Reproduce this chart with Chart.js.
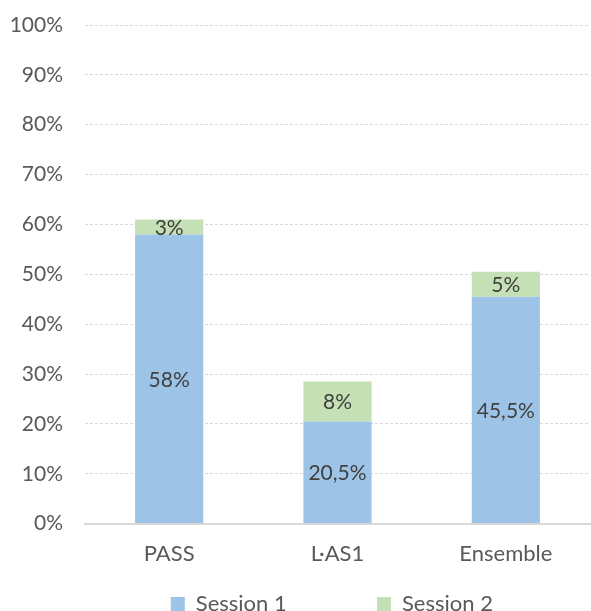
<!DOCTYPE html>
<html lang="fr">
<head>
    <meta charset="UTF-8">
    <title>Réussite par session</title>
    <script src="https://cdn.jsdelivr.net/npm/chart.js"></script>
    <style>
        body {
            margin: 0;
            background: #ffffff;
        }
        .chart-box {
            width: 591px;
            height: 611px;
        }
    </style>
</head>
<body>
    <div class="chart-box">
        <canvas id="resultsChart"></canvas>
    </div>
    <script>
        // data
        const categories = ['PASS', 'L·AS1', 'Ensemble'];
        const session1 = [58, 20.5, 45.5];
        const session2 = [3, 8, 5];
        const seriesNames = ['Session 1', 'Session 2'];
        const yTicks = [0, 10, 20, 30, 40, 50, 60, 70, 80, 90, 100];

        const fontName = 'Lato, "Open Sans", sans-serif';

        function pct(v) {
            return String(v).replace('.', ',') + '%';
        }

        // writes each value in the middle of its bar segment
        const barLabels = {
            id: 'barLabels',
            afterDatasetsDraw(chart) {
                const ctx = chart.ctx;
                ctx.save();
                ctx.font = '21px ' + fontName;
                ctx.fillStyle = '#404040';
                ctx.textAlign = 'center';
                ctx.textBaseline = 'middle';
                chart.data.datasets.forEach((ds, i) => {
                    const meta = chart.getDatasetMeta(i);
                    meta.data.forEach((bar, j) => {
                        const p = bar.getProps(['x', 'y', 'base'], true);
                        ctx.fillText(pct(ds.data[j]), p.x, (p.y + p.base) / 2 + 1);
                    });
                });
                ctx.restore();
            }
        };

        const ctx = document.getElementById('resultsChart').getContext('2d');
        new Chart(ctx, {
            type: 'bar',
            data: {
                labels: categories,
                datasets: [
                    {
                        // trailing spaces widen the gap between the two legend items
                        label: seriesNames[0] + '             ',
                        data: session1,
                        backgroundColor: '#9dc3e6'
                    },
                    {
                        label: seriesNames[1] + '  ',
                        data: session2,
                        backgroundColor: '#c5e0b4'
                    }
                ]
            },
            options: {
                responsive: true,
                maintainAspectRatio: false,
                animation: false,
                categoryPercentage: 1,
                barPercentage: 0.405,
                layout: {
                    padding: { top: 0, right: 1, bottom: -14, left: 0 }
                },
                plugins: {
                    tooltip: { enabled: false },
                    legend: {
                        position: 'bottom',
                        fullSize: false,
                        labels: {
                            boxWidth: 14,
                            boxHeight: 14,
                            padding: 17,
                            color: '#595959',
                            font: { family: fontName, size: 22 }
                        }
                    }
                },
                scales: {
                    x: {
                        stacked: true,
                        grid: { display: false },
                        border: { display: true, color: '#d9d9d9', width: 2 },
                        ticks: {
                            color: '#595959',
                            padding: 9,
                            font: { family: fontName, size: 22 }
                        }
                    },
                    y: {
                        stacked: true,
                        min: 0,
                        max: 100,
                        afterBuildTicks(scale) {
                            scale.ticks = yTicks.map(v => ({ value: v }));
                        },
                        afterFit(scale) {
                            scale.width = 85;
                            scale.paddingTop = 25;
                            scale.paddingBottom = 0;
                        },
                        grid: {
                            color: '#d9d9d9',
                            drawTicks: false
                        },
                        border: { display: false, dash: [3, 2] },
                        ticks: {
                            color: '#595959',
                            padding: 22,
                            font: { family: fontName, size: 21 },
                            callback: v => v + '%'
                        }
                    }
                }
            },
            plugins: [barLabels]
        });
    </script>
</body>
</html>
